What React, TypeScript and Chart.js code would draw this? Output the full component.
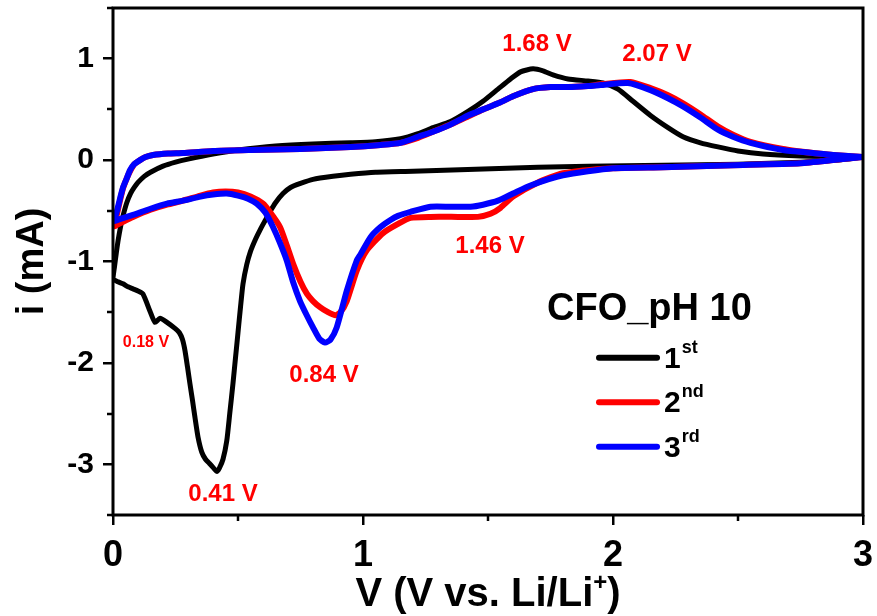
import React, { useEffect, useRef } from 'react';
import { Chart, registerables } from 'chart.js';

Chart.register(...registerables);

// ---------- data ----------
// Cycle 1 (cathodic sweep 3 V -> 0 V, then anodic sweep 0 V -> 3 V)
const cycle1V = [
  3.0, 2.9, 2.75, 2.5, 2.2, 1.9, 1.7, 1.45, 1.2, 1.05, 0.95, 0.88, 0.8, 0.75, 0.71, 0.68, 0.65, 0.63, 0.61, 0.59,
  0.57, 0.55, 0.535, 0.52, 0.51, 0.5, 0.49, 0.48, 0.467, 0.455, 0.44, 0.425, 0.415, 0.4, 0.385, 0.37, 0.355, 0.34,
  0.328, 0.318, 0.308, 0.298, 0.288, 0.278, 0.265, 0.248, 0.216, 0.188, 0.168, 0.148, 0.12, 0.1, 0.08, 0.06, 0.04,
  0.02, 0.0,
  0.006, 0.013, 0.02, 0.03, 0.04, 0.055, 0.07, 0.085, 0.1, 0.125, 0.15, 0.2, 0.25, 0.3, 0.4, 0.5, 0.65, 0.8, 0.95,
  1.05, 1.15, 1.22, 1.28, 1.35, 1.42, 1.48, 1.54, 1.59, 1.63, 1.68, 1.72, 1.76, 1.82, 1.9, 1.96, 2.02, 2.08, 2.15,
  2.22, 2.28, 2.35, 2.42, 2.5, 2.6, 2.75, 2.9, 3.0,
];
const cycle1I = [
  0.03, 0.0, -0.02, -0.04, -0.05, -0.06, -0.07, -0.09, -0.11, -0.12, -0.14, -0.16, -0.19, -0.23, -0.27, -0.33, -0.42,
  -0.5, -0.59, -0.68, -0.78, -0.9, -1.03, -1.22, -1.45, -1.7, -1.95, -2.2, -2.5, -2.77, -2.95, -3.04, -3.07, -3.03,
  -2.99, -2.95, -2.88, -2.73, -2.54, -2.37, -2.21, -2.04, -1.88, -1.77, -1.7, -1.66, -1.6, -1.56, -1.6, -1.49, -1.32,
  -1.29, -1.27, -1.25, -1.22, -1.2, -1.17,
  -1.05, -0.92, -0.8, -0.66, -0.55, -0.42, -0.33, -0.27, -0.22, -0.16, -0.12, -0.06, -0.02, 0.01, 0.06, 0.1, 0.14,
  0.16, 0.17, 0.18, 0.21, 0.26, 0.32, 0.38, 0.48, 0.58, 0.7, 0.8, 0.87, 0.9, 0.88, 0.84, 0.8, 0.78, 0.76, 0.7, 0.58,
  0.44, 0.32, 0.23, 0.17, 0.13, 0.09, 0.06, 0.04, 0.03, 0.03,
];

// Cycle 2
const cycle2V = [
  3.0, 2.88, 2.75, 2.48, 2.2, 2.0, 1.8, 1.7, 1.6, 1.55, 1.51, 1.46, 1.38, 1.27, 1.19, 1.14, 1.08, 1.015, 0.975,
  0.935, 0.91, 0.89, 0.86, 0.828, 0.8, 0.776, 0.75, 0.72, 0.695, 0.668, 0.63, 0.6, 0.55, 0.5, 0.45, 0.4, 0.35,
  0.28, 0.216, 0.15, 0.08, 0.03, 0.005,
  0.016, 0.028, 0.04, 0.055, 0.068, 0.085, 0.108, 0.13, 0.16, 0.22, 0.28, 0.4, 0.55, 0.75, 0.95, 1.07, 1.15, 1.22,
  1.28, 1.35, 1.42, 1.48, 1.55, 1.6, 1.68, 1.75, 1.82, 1.9, 1.96, 2.07, 2.15, 2.22, 2.28, 2.35, 2.42, 2.48, 2.55,
  2.68, 2.8, 2.88, 3.0,
];
const cycle2I = [
  0.03, 0.0, -0.03, -0.05, -0.07, -0.08, -0.13, -0.22, -0.36, -0.47, -0.53, -0.56, -0.56, -0.56, -0.57, -0.63,
  -0.72, -0.89, -1.09, -1.39, -1.5, -1.53, -1.5, -1.45, -1.39, -1.32, -1.2, -1.02, -0.84, -0.66, -0.52, -0.43,
  -0.36, -0.32, -0.31, -0.32, -0.35, -0.4, -0.44, -0.49, -0.56, -0.62, -0.65,
  -0.53, -0.4, -0.28, -0.18, -0.11, -0.04, 0.0, 0.03, 0.05, 0.065, 0.07, 0.09, 0.1, 0.11, 0.13, 0.15, 0.17, 0.22,
  0.28, 0.35, 0.43, 0.5, 0.57, 0.63, 0.7, 0.72, 0.72, 0.73, 0.75, 0.77, 0.71, 0.64, 0.56, 0.45, 0.33, 0.25, 0.18,
  0.11, 0.07, 0.05, 0.03,
];

// Cycle 3
const cycle3V = [
  3.0, 2.88, 2.75, 2.48, 2.2, 2.0, 1.8, 1.67, 1.6, 1.54, 1.48, 1.43, 1.35, 1.27, 1.19, 1.14, 1.11, 1.07, 1.03,
  0.99, 0.975, 0.935, 0.895, 0.87, 0.848, 0.825, 0.8, 0.775, 0.748, 0.72, 0.695, 0.665, 0.64, 0.61, 0.575, 0.54,
  0.5, 0.455, 0.4, 0.35, 0.28, 0.216, 0.15, 0.08, 0.03, 0.005,
  0.016, 0.028, 0.04, 0.055, 0.068, 0.085, 0.108, 0.13, 0.16, 0.22, 0.28, 0.4, 0.55, 0.75, 0.95, 1.07, 1.15, 1.22,
  1.28, 1.35, 1.42, 1.48, 1.55, 1.6, 1.68, 1.75, 1.82, 1.9, 1.95, 2.06, 2.15, 2.22, 2.28, 2.35, 2.42, 2.48, 2.55,
  2.68, 2.8, 2.88, 3.0,
];
const cycle3I = [
  0.03, 0.0, -0.03, -0.05, -0.07, -0.08, -0.15, -0.25, -0.33, -0.4, -0.44, -0.46, -0.46, -0.46, -0.51, -0.55,
  -0.59, -0.66, -0.76, -0.93, -0.99, -1.29, -1.65, -1.77, -1.8, -1.76, -1.65, -1.53, -1.39, -1.2, -0.99, -0.8,
  -0.66, -0.52, -0.43, -0.38, -0.35, -0.33, -0.34, -0.36, -0.4, -0.43, -0.48, -0.54, -0.58, -0.6,
  -0.5, -0.38, -0.27, -0.18, -0.1, -0.04, 0.0, 0.03, 0.05, 0.065, 0.07, 0.09, 0.1, 0.11, 0.13, 0.15, 0.17, 0.23,
  0.28, 0.35, 0.44, 0.5, 0.57, 0.63, 0.7, 0.72, 0.72, 0.73, 0.74, 0.76, 0.69, 0.61, 0.53, 0.42, 0.3, 0.23, 0.17,
  0.1, 0.07, 0.05, 0.03,
];

const seriesMain = ['1', '2', '3'];
const seriesSup = ['st', 'nd', 'rd'];
const seriesColors = ['#000000', '#ff0000', '#0000ff'];
const legendTitle = 'CFO_pH 10';

// peak annotations (text, and the V / i where each label sits)
const peakText = ['1.68 V', '2.07 V', '1.46 V', '0.84 V', '0.41 V', '0.18 V'];
const peakLabelV = [1.696, 2.176, 1.508, 0.844, 0.44, 0.132];
const peakLabelI = [1.139, 1.04, -0.85, -2.12, -3.3, -1.8];

const xTitle = 'V (V vs. Li/Li';
const xTitleSup = '+';
const yTitle = 'i (mA)';

// ---------- styling ----------
const FONT = '"Liberation Sans", Arial, Helvetica, sans-serif';
const peakFontSizes = [24, 24, 24, 24, 24, 16];

function toPoints(v: number[], i: number[]) {
  return v.map((x, k) => ({ x, y: i[k] }));
}

const decorPlugin = {
  id: 'decor',
  afterDatasetsDraw(chart: any) {
    const { ctx, chartArea: a, scales } = chart;
    const xs = scales.x;
    const ys = scales.y;
    ctx.save();
    // minor ticks
    ctx.strokeStyle = '#000';
    ctx.lineWidth = 2.5;
    ctx.beginPath();
    xs.ticks.forEach((t: any) => {
      if (Math.abs(t.value % 1) > 1e-6) {
        const px = Math.round(xs.getPixelForValue(t.value));
        ctx.moveTo(px, a.bottom);
        ctx.lineTo(px, a.bottom + 6);
      }
    });
    ys.ticks.forEach((t: any) => {
      if (Math.abs(t.value % 1) > 1e-6) {
        const py = Math.round(ys.getPixelForValue(t.value));
        ctx.moveTo(a.left, py);
        ctx.lineTo(a.left - 6, py);
      }
    });
    ctx.stroke();
    // frame
    ctx.lineWidth = 3;
    ctx.strokeRect(a.left, a.top, a.right - a.left, a.bottom - a.top);

    // peak labels
    ctx.fillStyle = '#ff0000';
    ctx.textAlign = 'center';
    ctx.textBaseline = 'middle';
    peakText.forEach((txt, k) => {
      ctx.font = `bold ${peakFontSizes[k]}px ${FONT}`;
      ctx.fillText(txt, xs.getPixelForValue(peakLabelV[k]), ys.getPixelForValue(peakLabelI[k]));
    });

    // legend
    const lx = a.left + (a.right - a.left) * 0.5787;
    const ly = a.top + (a.bottom - a.top) * 0.615;
    ctx.fillStyle = '#000';
    ctx.textAlign = 'left';
    ctx.textBaseline = 'alphabetic';
    ctx.font = `bold 38px ${FONT}`;
    ctx.fillText(legendTitle, lx, ly);
    ctx.lineCap = 'round';
    seriesMain.forEach((m, k) => {
      const ey = ly + 38 + k * 44.5;
      ctx.strokeStyle = seriesColors[k];
      ctx.lineWidth = 6;
      ctx.beginPath();
      ctx.moveTo(lx + 52, ey);
      ctx.lineTo(lx + 110, ey);
      ctx.stroke();
      ctx.fillStyle = '#000';
      ctx.font = `bold 30px ${FONT}`;
      ctx.fillText(m, lx + 117, ey + 10);
      const w = ctx.measureText(m).width;
      ctx.font = `bold 18px ${FONT}`;
      ctx.fillText(seriesSup[k], lx + 117 + w + 1, ey - 5);
    });

    // x title with superscript
    ctx.font = `bold 40px ${FONT}`;
    const mainW = ctx.measureText(xTitle).width;
    const parenW = ctx.measureText(')').width;
    ctx.font = `bold 24px ${FONT}`;
    const supW = ctx.measureText(xTitleSup).width;
    const total = mainW + supW + parenW;
    const cx = (a.left + a.right) / 2;
    const startX = cx - total / 2;
    const baseY = xs.bottom - 10;
    ctx.fillStyle = '#000';
    ctx.textAlign = 'left';
    ctx.textBaseline = 'alphabetic';
    ctx.font = `bold 40px ${FONT}`;
    ctx.fillText(xTitle, startX, baseY);
    ctx.font = `bold 24px ${FONT}`;
    ctx.fillText(xTitleSup, startX + mainW, baseY - 16);
    ctx.font = `bold 40px ${FONT}`;
    ctx.fillText(')', startX + mainW + supW, baseY);
    ctx.restore();
  },
};

export default function App() {
  const ref = useRef<HTMLCanvasElement | null>(null);

  useEffect(() => {
    document.body.style.margin = '0';
    document.body.style.overflow = 'hidden';
    const canvas = ref.current;
    if (!canvas) return;
    const datasets = [
      { data: toPoints(cycle1V, cycle1I), borderColor: seriesColors[0], borderWidth: 5, order: 3 },
      { data: toPoints(cycle2V, cycle2I), borderColor: seriesColors[1], borderWidth: 6, order: 2 },
      { data: toPoints(cycle3V, cycle3I), borderColor: seriesColors[2], borderWidth: 6, order: 1 },
    ].map((d, k) => ({
      ...d,
      label: seriesMain[k] + seriesSup[k],
      showLine: true,
      pointRadius: 0,
      tension: 0.2,
      fill: false,
      borderJoinStyle: 'round' as const,
      borderCapStyle: 'round' as const,
    }));

    const isMajor = (v: number) => Math.abs(v % 1) < 1e-6;

    const chart = new Chart(canvas, {
      type: 'scatter',
      data: { datasets },
      plugins: [decorPlugin],
      options: {
        animation: false,
        responsive: false,
        devicePixelRatio: 1,
        layout: { padding: { top: 8, right: 14, bottom: 0, left: 0 } },
        plugins: { legend: { display: false }, tooltip: { enabled: false } },
        scales: {
          x: {
            type: 'linear',
            min: 0,
            max: 3,
            border: { display: false },
            grid: {
              drawOnChartArea: false,
              drawTicks: true,
              tickLength: 10,
              lineWidth: 2.5,
              color: (c: any) => (c.tick && isMajor(c.tick.value) ? '#000' : 'rgba(0,0,0,0)'),
            },
            ticks: {
              stepSize: 0.5,
              maxRotation: 0,
              autoSkip: false,
              padding: 9,
              color: '#000',
              font: { family: FONT, size: 36, weight: 'bold' },
              callback: (v: any) => (isMajor(Number(v)) ? String(v) : ''),
            },
            title: { display: false },
            afterFit: (s: any) => {
              s.height = 101;
              s.paddingLeft = 0;
              s.paddingRight = 0;
            },
          },
          y: {
            type: 'linear',
            min: -3.5,
            max: 1.5,
            border: { display: false },
            grid: {
              drawOnChartArea: false,
              drawTicks: true,
              tickLength: 10,
              lineWidth: 2.5,
              color: (c: any) => (c.tick && isMajor(c.tick.value) ? '#000' : 'rgba(0,0,0,0)'),
            },
            ticks: {
              stepSize: 0.5,
              autoSkip: false,
              padding: 9,
              color: '#000',
              font: { family: FONT, size: 30, weight: 'bold' },
              callback: (v: any) => (isMajor(Number(v)) ? String(v) : ''),
            },
            title: {
              display: true,
              text: yTitle,
              color: '#000',
              font: { family: FONT, size: 38, weight: 'bold', lineHeight: 1 },
              padding: { top: 14, bottom: 0 },
            },
            afterFit: (s: any) => {
              s.width = 113;
              s.paddingTop = 0;
              s.paddingBottom = 0;
            },
          },
        },
      },
    });
    return () => chart.destroy();
  }, []);

  return (
    <div style={{ width: 877, height: 616, position: 'relative', background: '#fff' }}>
      <canvas ref={ref} width={877} height={616} style={{ display: 'block', width: 877, height: 616 }} />
    </div>
  );
}
